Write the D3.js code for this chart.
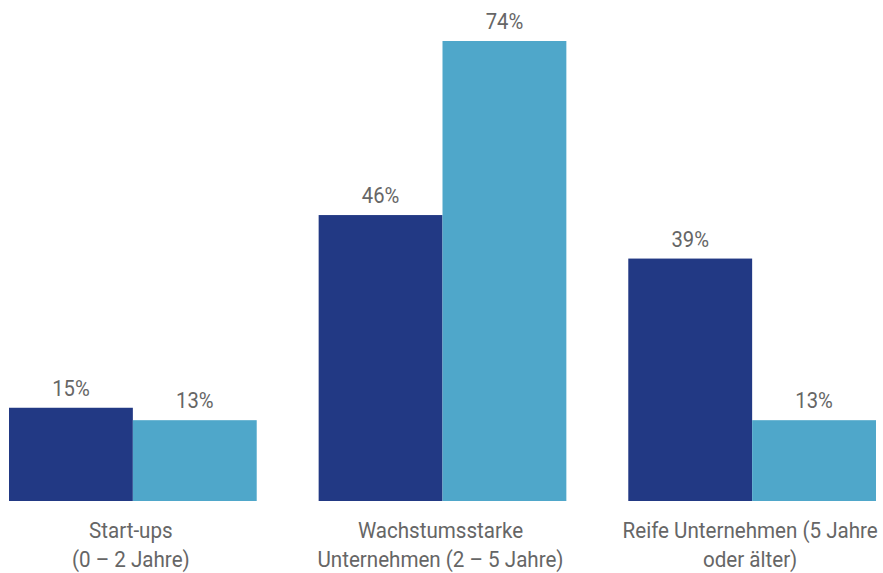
<!DOCTYPE html>
<html>
<head>
<meta charset="utf-8">
<script src="https://cdn.jsdelivr.net/npm/d3@7"></script>
<style>
  html, body { margin: 0; padding: 0; background: #fff; }
  svg { display: block; }
  text { font-family: "Roboto", "Liberation Sans", sans-serif; font-weight: 400; fill: #666666; }
</style>
</head>
<body>
<svg id="chart" width="883" height="573"></svg>
<script>
// Unternehmensphasen (zweizeilige Beschriftung)
const categories = [
  ["Start-ups", "(0 – 2 Jahre)"],
  ["Wachstumsstarke", "Unternehmen (2 – 5 Jahre)"],
  ["Reife Unternehmen (5 Jahre", "oder älter)"]
];
const series = ["Reihe 1", "Reihe 2"];
const seriesA = [15, 46, 39];
const seriesB = [13, 74, 13];
const colors = ["#223984", "#4fa7ca"];

const svg = d3.select("#chart");
const keys = categories.map((c, i) => i);

const x0 = d3.scaleBand().domain(keys).range([9, 876]).paddingInner(0.2).paddingOuter(0);
const x1 = d3.scaleBand().domain(series).range([0, x0.bandwidth()]).padding(0);
const y = d3.scaleLinear().domain([0, 74]).range([501, 41]);
const color = d3.scaleOrdinal().domain(series).range(colors);

const rows = keys.map(i => ({ i, values: [
  { s: series[0], v: seriesA[i] },
  { s: series[1], v: seriesB[i] }
]}));

const groups = svg.selectAll("g.group").data(rows).join("g")
  .attr("class", "group")
  .attr("transform", d => `translate(${x0(d.i)},0)`);

groups.selectAll("rect").data(d => d.values).join("rect")
  .attr("x", d => x1(d.s))
  .attr("y", d => y(d.v))
  .attr("width", x1.bandwidth())
  .attr("height", d => y(0) - y(d.v))
  .attr("fill", d => color(d.s));

// Werte über den Balken, leicht schmal gesetzt
groups.selectAll("text.val").data(d => d.values).join("text")
  .attr("class", "val")
  .attr("transform", d => `translate(${x1(d.s) + x1.bandwidth() / 2},${y(d.v) - 12}) scale(0.92,1)`)
  .attr("text-anchor", "middle")
  .style("font-size", "22px")
  .text(d => d.v + "%");

// Kategorienbeschriftung unter der Grundlinie
const xAxis = svg.append("g");
xAxis.selectAll("text").data(keys).join("text")
  .attr("transform", i => `translate(${x0(i) + x0.bandwidth() / 2 - 2},538) scale(0.915,1)`)
  .attr("text-anchor", "middle")
  .style("font-size", "22.5px")
  .each(function(i) {
    const t = d3.select(this);
    categories[i].forEach((line, k) => {
      t.append("tspan")
        .attr("x", 0)
        .attr("dy", k === 0 ? 0 : 29)
        .text(line);
    });
  });
</script>
</body>
</html>
